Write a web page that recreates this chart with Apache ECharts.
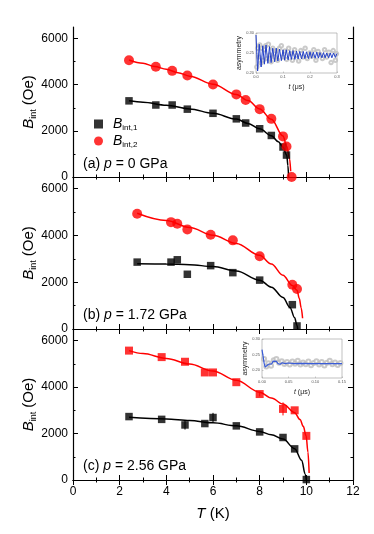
<!DOCTYPE html>
<html>
<head>
<meta charset="utf-8">
<script src="https://cdn.jsdelivr.net/npm/echarts@6/dist/echarts.min.js"></script>
<style>
  html, body { margin: 0; padding: 0; background: #fff; }
  #chart { width: 374px; height: 534px; }
</style>
</head>
<body>
<div id="chart"></div>
<script>
// panel (a) p = 0 GPa
const tA = [2.4, 3.55, 4.25, 4.9, 6.0, 7.0, 7.4, 8.0, 8.5, 9.0, 9.15];
const b1A = [3300, 3120, 3120, 2940, 2760, 2520, 2340, 2090, 1800, 1300, 950];
const t2A = [2.4, 3.55, 4.25, 4.9, 6.0, 7.0, 7.4, 8.0, 8.5, 9.0, 9.15, 9.37];
const b2A = [5060, 4780, 4600, 4400, 4010, 3580, 3340, 2940, 2520, 1760, 1320, 0];
const fitA1 = [[2.4, 3300], [3, 3240], [4, 3110], [5, 2950], [6, 2760], [7, 2510], [7.5, 2320], [8, 2090], [8.5, 1790], [8.8, 1530], [9.0, 1290], [9.16, 950], [9.21, 500], [9.24, 0]];
const fitA2 = [[2.4, 5070], [3, 4930], [3.5, 4790], [4, 4670], [4.5, 4520], [5, 4370], [6, 4020], [7, 3580], [7.5, 3310], [8, 2950], [8.5, 2500], [9.0, 1780], [9.16, 1330], [9.28, 800], [9.33, 250]];

// panel (b) p = 1.72 GPa
const tB = [2.75, 4.2, 4.47, 4.9, 5.9, 6.85, 8.0, 9.4, 9.6];
const b1B = [2860, 2860, 2960, 2340, 2710, 2410, 2090, 1040, 130];
const b2B = [4930, 4570, 4500, 4260, 4030, 3790, 3110, 1890, 1710];
const fitB1 = [[2.75, 2790], [4, 2780], [5, 2750], [6, 2670], [7, 2480], [8, 2090], [8.5, 1790], [9, 1350], [9.3, 920], [9.5, 480], [9.6, 150], [9.63, 0]];
const fitB2 = [[2.75, 4950], [4, 4640], [5, 4340], [6, 4010], [7, 3660], [8, 3150], [8.5, 2780], [9, 2300], [9.4, 1860], [9.6, 1660], [9.7, 1300], [9.78, 900], [9.84, 460]];

// panel (c) p = 2.56 GPa
const tC = [2.4, 3.8, 4.8, 5.65, 6.0, 7.0, 8.0, 9.0, 9.5, 10.0];
const b1C = [2730, 2610, 2370, 2430, 2690, 2330, 2070, 1830, 1340, 20];
const b2C = [5570, 5290, 5090, 4630, 4630, 4210, 3700, 3060, 3000, 1900];
const err1C = [0, 0, 200, 0, 200, 0, 0, 0, 0, 0];
const err2C = [0, 0, 0, 0, 0, 0, 100, 280, 0, 0];
const fitC1 = [[2.4, 2700], [4, 2630], [5, 2560], [6, 2460], [7, 2330], [8, 2090], [8.5, 1950], [9, 1760], [9.5, 1350], [9.8, 850], [9.95, 250], [10.0, 0]];
const fitC2 = [[2.4, 5570], [3, 5440], [4, 5230], [5, 4990], [6, 4690], [7, 4290], [8, 3780], [8.5, 3530], [9, 3270], [9.5, 2900], [9.73, 2600], [9.87, 2310], [9.99, 1900], [10.07, 1200], [10.12, 300]];

// insets: muSR asymmetry vs t (us)
const insetAFit = [[0, 0.295], [0.006, 0.205], [0.012, 0.272], [0.019, 0.215], [0.025, 0.268], [0.031, 0.222], [0.037, 0.270], [0.044, 0.224], [0.05, 0.266], [0.056, 0.226], [0.062, 0.262], [0.069, 0.228], [0.075, 0.262], [0.081, 0.230], [0.087, 0.260], [0.094, 0.231], [0.1, 0.258], [0.106, 0.232], [0.112, 0.258], [0.119, 0.233], [0.125, 0.256], [0.131, 0.234], [0.137, 0.256], [0.144, 0.234], [0.15, 0.255], [0.156, 0.235], [0.162, 0.254], [0.169, 0.235], [0.175, 0.254], [0.181, 0.236], [0.187, 0.253], [0.194, 0.236], [0.2, 0.253], [0.206, 0.237], [0.212, 0.252], [0.219, 0.237], [0.225, 0.252], [0.231, 0.237], [0.237, 0.251], [0.244, 0.238], [0.25, 0.251], [0.256, 0.238], [0.262, 0.250], [0.269, 0.238], [0.275, 0.250], [0.281, 0.238], [0.287, 0.250], [0.294, 0.239], [0.3, 0.249]];
const insetAData = [[0.003, 0.215], [0.006, 0.262], [0.010, 0.240], [0.014, 0.270], [0.018, 0.225], [0.022, 0.262], [0.027, 0.232], [0.031, 0.258], [0.036, 0.268], [0.041, 0.236], [0.046, 0.272], [0.051, 0.245], [0.056, 0.228], [0.062, 0.262], [0.068, 0.240], [0.074, 0.255], [0.080, 0.232], [0.087, 0.262], [0.094, 0.268], [0.100, 0.240], [0.107, 0.255], [0.114, 0.234], [0.121, 0.262], [0.128, 0.248], [0.135, 0.232], [0.143, 0.258], [0.150, 0.244], [0.158, 0.230], [0.166, 0.256], [0.174, 0.240], [0.182, 0.262], [0.190, 0.236], [0.198, 0.250], [0.206, 0.242], [0.214, 0.258], [0.222, 0.232], [0.230, 0.254], [0.238, 0.246], [0.246, 0.236], [0.254, 0.258], [0.262, 0.240], [0.270, 0.252], [0.278, 0.226], [0.286, 0.256], [0.294, 0.232], [0.298, 0.248]];
const insetCFit = [[0, 0.266], [0.002, 0.245], [0.004, 0.222], [0.006, 0.210], [0.009, 0.214], [0.012, 0.219], [0.015, 0.213], [0.018, 0.220], [0.021, 0.229], [0.024, 0.233], [0.027, 0.228], [0.030, 0.221], [0.034, 0.219], [0.038, 0.224], [0.043, 0.221], [0.050, 0.223], [0.060, 0.221], [0.075, 0.222], [0.090, 0.221], [0.110, 0.221], [0.130, 0.221], [0.150, 0.221]];
const insetCData = [[0.004, 0.236], [0.008, 0.212], [0.012, 0.222], [0.017, 0.214], [0.022, 0.232], [0.027, 0.236], [0.032, 0.224], [0.037, 0.229], [0.042, 0.220], [0.047, 0.226], [0.052, 0.218], [0.057, 0.228], [0.062, 0.221], [0.067, 0.230], [0.072, 0.218], [0.077, 0.225], [0.082, 0.219], [0.087, 0.228], [0.092, 0.216], [0.097, 0.223], [0.102, 0.229], [0.107, 0.218], [0.112, 0.226], [0.117, 0.215], [0.122, 0.224], [0.127, 0.230], [0.132, 0.219], [0.137, 0.225], [0.142, 0.217], [0.147, 0.223]];

const yMajor = [0, 2000, 4000, 6000];
const yMinor = [1000, 3000, 5000];
const panelText = ['(a) ', '(b) ', '(c) '];
const panelP = [' = 0 GPa', ' = 1.72 GPa', ' = 2.56 GPa'];

const FONT = 'Liberation Sans, Arial, sans-serif';
const chart = echarts.init(document.getElementById('chart'));

const grids = [
  { left: 73, top: 27, width: 280, height: 150 },
  { left: 73, top: 177, width: 280, height: 152 },
  { left: 73, top: 329, width: 280, height: 151 },
  { left: 256, top: 33, width: 81, height: 40, show: true, backgroundColor: '#fff', borderColor: '#999', borderWidth: 0.6 },
  { left: 262, top: 339, width: 80, height: 39, show: true, backgroundColor: '#fff', borderColor: '#999', borderWidth: 0.6 }
];

const line = { show: true, lineStyle: { color: '#000', width: 1.2 } };
const xAxes = [];
const yAxes = [];
for (let p = 0; p < 3; p++) {
  ['bottom', 'top'].forEach((pos) => {
    const labels = pos === 'bottom' && p === 2;
    xAxes.push({
      type: 'value', gridIndex: p, position: pos, min: 0, max: 12, interval: 2,
      axisLine: line,
      axisTick: { inside: true, length: 5, lineStyle: { color: '#000', width: 1 } },
      minorTick: { show: true, splitNumber: 2, length: 2.5, lineStyle: { color: '#000', width: 1 } },
      splitLine: { show: false },
      axisLabel: { show: labels, color: '#000', fontSize: 12, fontFamily: FONT, margin: 6 },
      name: labels ? '{t|T} (K)' : '',
      nameLocation: 'middle', nameGap: 26,
      nameTextStyle: { color: '#000', fontSize: 15, fontFamily: FONT, rich: { t: { fontStyle: 'italic', fontSize: 15, fontFamily: FONT } } }
    });
  });
  ['left', 'right'].forEach((pos) => {
    yAxes.push({
      type: 'value', gridIndex: p, position: pos, min: 0, max: 6500,
      axisLine: line,
      axisTick: { inside: true, length: 5, customValues: yMajor, lineStyle: { color: '#000', width: 1 } },
      splitLine: { show: false },
      axisLabel: { show: pos === 'left', customValues: yMajor, formatter: (v) => String(v), color: '#000', fontSize: 12, fontFamily: FONT, margin: 5 },
      name: pos === 'left' ? '{b|B}{s|int} (Oe)' : '',
      nameLocation: 'middle', nameGap: 35, nameMoveOverlap: false,
      nameTextStyle: { color: '#000', fontSize: 15, fontFamily: FONT, rich: {
        b: { fontStyle: 'italic', fontSize: 15, fontFamily: FONT },
        s: { fontSize: 9, fontFamily: FONT, padding: [9, 0, 0, 0] }
      } }
    });
    yAxes.push({
      type: 'value', gridIndex: p, position: pos, min: 0, max: 6500,
      axisLine: { show: false },
      axisTick: { inside: true, length: 2.5, customValues: yMinor, lineStyle: { color: '#000', width: 1 } },
      splitLine: { show: false },
      axisLabel: { show: false }
    });
  });
}

const insetLabel = { color: '#555', fontSize: 4, fontFamily: FONT, margin: 2 };
const insetName = { color: '#222', fontSize: 7, fontFamily: FONT, rich: { t: { fontStyle: 'italic', fontSize: 7, fontFamily: FONT } } };
xAxes.push({
  type: 'value', gridIndex: 3, min: 0, max: 0.3, interval: 0.1,
  axisLine: { show: false }, splitLine: { show: false },
  axisTick: { inside: true, length: 1.5, lineStyle: { color: '#999', width: 0.5 } },
  axisLabel: Object.assign({ formatter: (v) => v.toFixed(1) }, insetLabel),
  name: '{t|t} (\u03bcs)', nameLocation: 'middle', nameGap: 11, nameTextStyle: insetName
});
xAxes.push({
  type: 'value', gridIndex: 4, min: 0, max: 0.15, interval: 0.05,
  axisLine: { show: false }, splitLine: { show: false },
  axisTick: { inside: true, length: 1.5, lineStyle: { color: '#999', width: 0.5 } },
  axisLabel: Object.assign({ formatter: (v) => v.toFixed(2) }, insetLabel),
  name: '{t|t} (\u03bcs)', nameLocation: 'middle', nameGap: 11, nameTextStyle: insetName
});
yAxes.push({
  type: 'value', gridIndex: 3, min: 0.2, max: 0.3, interval: 0.05,
  axisLine: { show: false }, splitLine: { show: false },
  axisTick: { inside: true, length: 1.5, lineStyle: { color: '#999', width: 0.5 } },
  axisLabel: Object.assign({ formatter: (v) => v.toFixed(2) }, insetLabel),
  name: 'asymmetry', nameLocation: 'middle', nameGap: 7, nameTextStyle: insetName
});
yAxes.push({
  type: 'value', gridIndex: 4, min: 0.175, max: 0.3, interval: 0.025,
  axisLine: { show: false }, splitLine: { show: false },
  axisTick: { inside: true, length: 1.5, customValues: [0.2, 0.25, 0.3], lineStyle: { color: '#999', width: 0.5 } },
  axisLabel: Object.assign({ customValues: [0.2, 0.25, 0.3], formatter: (v) => v.toFixed(2) }, insetLabel),
  name: 'asymmetry', nameLocation: 'middle', nameGap: 7, nameTextStyle: insetName
});

function pts(ts, bs) {
  return ts.map((t, i) => [t, bs[i]]);
}
function scatter(name, p, data, symbol, size, color) {
  return {
    name: name, type: 'scatter', xAxisIndex: 2 * p, yAxisIndex: 4 * p,
    data: data, symbol: symbol, symbolSize: size, z: 4,
    itemStyle: { color: color }
  };
}
function fit(p, data, color) {
  return {
    type: 'line', xAxisIndex: 2 * p, yAxisIndex: 4 * p, data: data,
    smooth: 0.35, smoothMonotone: 'x', showSymbol: false, silent: true, z: 3,
    lineStyle: { color: color, width: 1.5 }
  };
}
function errorBars(p, ts, bs, errs, color) {
  return {
    type: 'custom', xAxisIndex: 2 * p, yAxisIndex: 4 * p, z: 3, silent: true,
    data: ts.map((t, i) => [t, bs[i], errs[i]]).filter((d) => d[2] > 0),
    renderItem: (params, api) => {
      const lo = api.coord([api.value(0), api.value(1) - api.value(2)]);
      const hi = api.coord([api.value(0), api.value(1) + api.value(2)]);
      return { type: 'line', shape: { x1: lo[0], y1: lo[1], x2: hi[0], y2: hi[1] }, style: { stroke: color, lineWidth: 1 } };
    }
  };
}
function insetPoints(xi, yi, data, size) {
  return {
    type: 'scatter', xAxisIndex: xi, yAxisIndex: yi, data: data, silent: true,
    symbol: 'emptyCircle', symbolSize: size, z: 5,
    itemStyle: { color: '#bdbdbd', borderColor: '#bdbdbd', borderWidth: 0.5 }
  };
}

const series = [
  fit(0, fitA1, '#000'), fit(0, fitA2, '#ff0000'),
  scatter('B_int,1', 0, pts(tA, b1A), 'rect', 7.5, '#000'),
  scatter('B_int,2', 0, pts(t2A, b2A), 'circle', 10, '#ff0000'),
  fit(1, fitB1, '#000'), fit(1, fitB2, '#ff0000'),
  scatter('b1', 1, pts(tB, b1B), 'rect', 7.5, '#000'),
  scatter('b2', 1, pts(tB, b2B), 'circle', 10, '#ff0000'),
  fit(2, fitC1, '#000'), fit(2, fitC2, '#ff0000'),
  errorBars(2, tC, b1C, err1C, '#000'), errorBars(2, tC, b2C, err2C, '#ff0000'),
  scatter('c1', 2, pts(tC, b1C), 'rect', 7.5, '#000'),
  scatter('c2', 2, pts(tC, b2C), 'rect', 8, '#ff0000'),
  insetPoints(6, 12, insetAData, 3.5),
  { type: 'line', xAxisIndex: 6, yAxisIndex: 12, data: insetAFit, showSymbol: false, silent: true, z: 6, lineStyle: { color: '#2340c8', width: 1 } },
  insetPoints(7, 13, insetCData, 4),
  { type: 'line', xAxisIndex: 7, yAxisIndex: 13, data: insetCFit, showSymbol: false, silent: true, z: 6, lineStyle: { color: '#3a5cd8', width: 1.2 } }
];

const panelTops = [157, 308, 459];
const graphic = panelTops.map((top, p) => ({
  type: 'text', left: 83, top: top,
  style: {
    text: '{n|' + panelText[p] + '}{i|p}{n|' + panelP[p] + '}',
    rich: {
      n: { fontSize: 14, fontFamily: FONT, fill: '#000' },
      i: { fontSize: 14, fontFamily: FONT, fontStyle: 'italic', fill: '#000' }
    }
  }
}));

chart.setOption({
  animation: false,
  backgroundColor: '#fff',
  grid: grids,
  xAxis: xAxes,
  yAxis: yAxes,
  legend: {
    orient: 'vertical', left: 89, top: 112, itemWidth: 9, itemHeight: 9, itemGap: 2,
    data: [{ name: 'B_int,1', icon: 'rect' }, { name: 'B_int,2', icon: 'circle' }],
    formatter: (name) => '{b|B}{s|' + name.slice(2) + '}',
    textStyle: {
      padding: [0, 0, 0, 5],
      rich: {
        b: { fontStyle: 'italic', fontSize: 14, fontFamily: FONT, color: '#000' },
        s: { fontSize: 8, fontFamily: FONT, color: '#000', padding: [8, 0, 0, 0] }
      }
    }
  },
  graphic: graphic,
  series: series
});
</script>
</body>
</html>
